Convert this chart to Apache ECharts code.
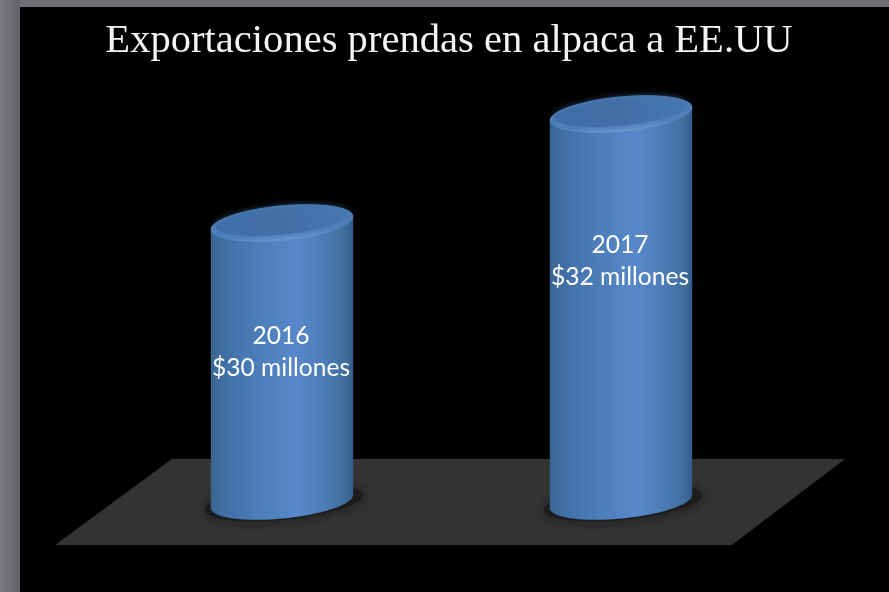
<!DOCTYPE html>
<html><head><meta charset="utf-8">
<style>html,body{margin:0;padding:0;background:#000}#c{width:889px;height:592px}</style>
<script src="https://cdn.jsdelivr.net/npm/echarts@6/dist/echarts.min.js"></script></head>
<body><div id="c"></div>
<script>
const titleText = 'Exportaciones prendas en alpaca a EE.UU';
const years = ['2016', '2017'];
const valueLabels = ['$30 millones', '$32 millones'];
const values = [30, 32];
const BASE = 24.89;

const chart = echarts.init(document.getElementById('c'), null, {renderer:'canvas'});
const TILT = -5.6 * Math.PI / 180;
const lin = (stops) => new echarts.graphic.LinearGradient(0,0,1,0,stops.map((c,i)=>({offset:c[0],color:c[1]})));
function ell(cx, cy, a, b, fill, extra) {
  return Object.assign({type:'ellipse', x:cx, y:cy, rotation:-TILT, shape:{cx:0,cy:0,rx:a,ry:b}, style:{fill}}, extra||{});
}
function renderItem(params, api) {
  const i = params.dataIndex;
  const top = api.coord([api.value(0), api.value(1)]);
  const base = api.coord([api.value(0), BASE]);
  const band = api.size([1,0])[0];
  const a = band * 0.211, b = 17;
  const cx = top[0];
  const pts = [];
  const c = Math.cos(TILT), s = Math.sin(TILT);
  const pt = (cy, t) => [cx + a*Math.cos(t)*c - b*Math.sin(t)*s, cy + a*Math.cos(t)*s + b*Math.sin(t)*c];
  const n = 48;
  for (let k=0;k<=n;k++) pts.push(pt(top[1], Math.PI + Math.PI*k/n));
  for (let k=0;k<=n;k++) pts.push(pt(base[1], Math.PI*k/n));
  const bodyFill = lin([[0,'#3a6591'],[0.12,'#4271a8'],[0.35,'#4c7eba'],[0.6,'#5888ca'],[0.8,'#4c7cb6'],[0.93,'#41709f'],[1,'#345c87']]);
  const rimFill = new echarts.graphic.LinearGradient(0,1,0,0,[{offset:0,color:'#6d9ad2'},{offset:0.2,color:'#5282bd'},{offset:1,color:'#4573ab'}]);
  const capFill = lin([[0,'#406ea6'],[0.5,'#416fa6'],[1,'#4876af']]);
  const drop = [129,147][i];
  return {type:'group', children:[
    ell(cx+2, base[1]+1, a+8, b, '#1c1c1c', {style:{fill:'#1c1c1c', shadowBlur:14, shadowColor:'#1a1a1a'}}),
    {type:'polygon', shape:{points:pts}, style:{fill:bodyFill}},
    ell(cx, top[1], a, b+0.5, rimFill),
    ell(cx, top[1]-2, a-5, b-3.5, capFill, {style:{fill:capFill, shadowBlur:7, shadowColor:'#4a79b3'}}),
    {type:'text', x:cx-1, y:top[1]+drop, style:{text:years[i]+'\n'+valueLabels[i], fill:'#fff',
      font:'24.6px Lato', align:'center', verticalAlign:'middle', lineHeight:32}}
  ]};
}
chart.setOption({
  animation:false,
  backgroundColor:'#000',
  title:{text:titleText, left:444, top:16, textAlign:'center',
    textStyle:{color:'#f4f4f4', fontFamily:'"Liberation Serif"', fontWeight:'normal', fontSize:40.6}},
  grid:{left:112.5, right:98.5, top:59.5, bottom:96.5},
  xAxis:{type:'category', data:years, show:false},
  yAxis:{type:'value', min:25, max:33, interval:1, show:false},
  graphic:[
    {type:'rect', left:0, top:0, shape:{width:889,height:7}, style:{fill:'#727076'}},
    {type:'rect', left:0, top:0, shape:{width:20,height:592},
      style:{fill:new echarts.graphic.LinearGradient(0,0,1,0,[{offset:0,color:'#7c7a80'},{offset:1,color:'#646268'}])}},
    {type:'polygon', shape:{points:[[172,459],[845,459],[732,545],[55,545]]}, style:{fill:'#333333'}}
  ],
  series:[{type:'custom', renderItem, clip:false, data:values.map((v,i)=>[i,v]), encode:{x:0,y:1}}]
});
</script></body></html>
